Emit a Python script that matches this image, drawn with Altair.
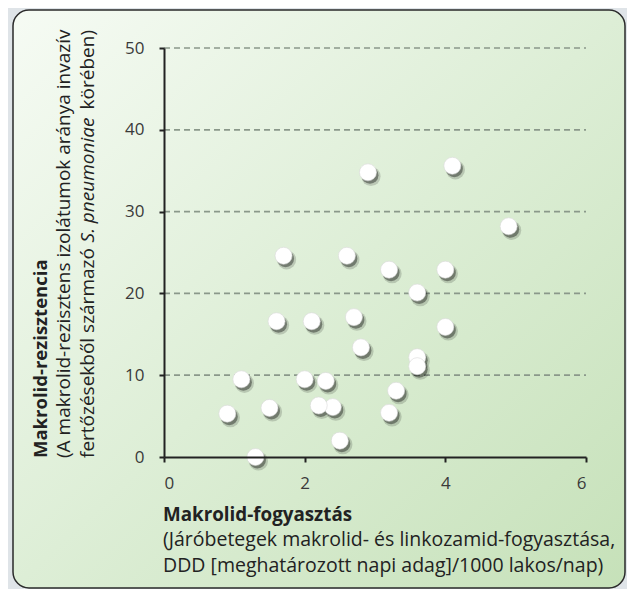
import altair as alt
import pandas as pd

# ---- data ----
consumption = [2.9, 4.1, 4.9, 1.7, 2.6, 3.2, 4.0, 3.6, 1.6, 2.1, 2.7, 2.8, 4.0,
               3.6, 3.6, 1.1, 2.0, 2.3, 3.3, 0.9, 1.5, 2.4, 2.2, 3.2, 2.5, 1.3]
resistance = [34.8, 35.6, 28.2, 24.6, 24.6, 22.9, 22.9, 20.1, 16.6, 16.6, 17.1, 13.4, 15.9,
              12.2, 11.1, 9.5, 9.5, 9.3, 8.1, 5.3, 6.0, 6.1, 6.3, 5.4, 2.0, 0.0]
x_ticks = [0, 2, 4, 6]
y_ticks = [0, 10, 20, 30, 40, 50]
grid_values = [10, 20, 30, 40, 50]

y_title_1 = "Makrolid-rezisztencia"
y_title_2 = "(A makrolid-rezisztens izolátumok aránya invazív"
y_title_3a = "fertőzésekből származó "
y_title_3b = "S. pneumoniae"
y_title_3c = " körében)"
x_title_1 = "Makrolid-fogyasztás"
x_title_2 = "(Járóbetegek makrolid- és linkozamid-fogyasztása,"
x_title_3 = "DDD [meghatározott napi adag]/1000 lakos/nap)"

df = pd.DataFrame({"x": consumption, "y": resistance})
grid_df = pd.DataFrame({"y": grid_values})

FONT = "Open Sans"
W, H = 422, 409

one = alt.Data(values=[{"a": 1}])

box = alt.Chart(one).mark_rect(
    cornerRadius=16,
    stroke="#2a2a2a",
    strokeWidth=1.5,
    fill=alt.LinearGradient(
        gradient="linear",
        stops=[alt.GradientStop(offset=0, color="#f6fbf4"),
               alt.GradientStop(offset=0.5, color="#ddeed6"),
               alt.GradientStop(offset=1, color="#c6e1b9")],
        x1=0, y1=0, x2=1, y2=1),
).encode(x=alt.value(-151), x2=alt.value(461), y=alt.value(-38), y2=alt.value(540))

xs = alt.X("x:Q", scale=alt.Scale(domain=[0, 6], nice=False),
           axis=alt.Axis(values=x_ticks, format="d", title=None, grid=False, labelPadding=13,
                         tickSize=5, tickWidth=2, domainWidth=2, domainColor="#222",
                         tickColor="#222", labelFontSize=17, labelColor="#3a3a3a",
                         labelFont=FONT, zindex=1))
ys = alt.Y("y:Q", scale=alt.Scale(domain=[0, 50], nice=False),
           axis=alt.Axis(values=y_ticks, format="d", title=None, grid=False, labelPadding=15,
                         tickSize=5, tickWidth=2, domainWidth=2, domainColor="#222",
                         tickColor="#222", labelFontSize=17, labelColor="#3a3a3a",
                         labelFont=FONT, zindex=1))

grid = alt.Chart(grid_df).mark_rule(
    strokeDash=[6, 4], color="#8a988a", strokeWidth=1.7
).encode(y=alt.Y("y:Q"), x=alt.value(0), x2=alt.value(W))

axes = alt.Chart(df).mark_point(opacity=0).encode(x=xs, y=ys)

shadow1 = alt.Chart(df).mark_circle(color="#000", opacity=0.16, size=370,
                                    xOffset=3, yOffset=4).encode(x="x:Q", y="y:Q")
shadow2 = alt.Chart(df).mark_circle(color="#000", opacity=0.38, size=290,
                                    xOffset=2, yOffset=3).encode(x="x:Q", y="y:Q")
dots = alt.Chart(df).mark_circle(color="white", opacity=1, size=290,
                                 stroke="#d8d8d8", strokeWidth=0.6).encode(x="x:Q", y="y:Q")


def txt(s, x, y, angle=0, weight="normal", style="normal", align="left", size=19):
    return alt.Chart(one).mark_text(
        text=s, font=FONT, fontSize=size, fontWeight=weight, fontStyle=style,
        angle=angle, align=align, baseline="alphabetic", color="#222",
    ).encode(x=alt.value(x), y=alt.value(y))


titles = [
    txt(y_title_1, -117, 410, angle=270, weight="bold", size=18.5),
    txt(y_title_2, -94, 410, angle=270),
    txt(y_title_3a, -70, 410, angle=270),
    txt(y_title_3b, -70, 132, angle=270, style="italic", align="center"),
    txt(y_title_3c, -70, -18, angle=270, align="right"),
    txt(x_title_1, -1, 473, weight="bold", size=18.8),
    txt(x_title_2, -1, 498, size=19.5),
    txt(x_title_3, -1, 524, size=19.5),
]

chart = alt.layer(box, grid, axes, shadow1, shadow2, dots, *titles).properties(
    width=W, height=H,
    autosize=alt.AutoSizeParams(type="none"),
    padding={"left": 156, "top": 40, "right": 41, "bottom": 132},
    background="#dfe4e8",
).configure_view(stroke=None)

chart.save("out.html", embed_options={"renderer": "svg", "actions": False})
